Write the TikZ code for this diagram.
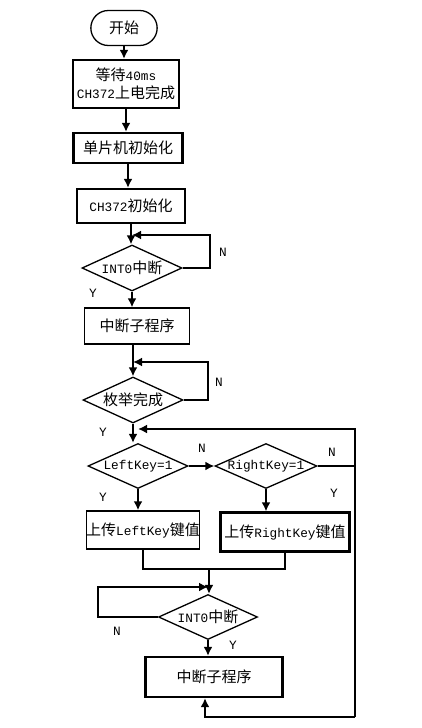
\documentclass[tikz,border=0pt]{standalone}
\usepackage{fontspec}
\setmainfont{Liberation Mono}[Scale=0.85]
\newfontfamily\cjk{Noto Sans CJK SC}
\usetikzlibrary{shapes.geometric,shapes.misc,arrows.meta}

\tikzset{
    box/.style={draw, rectangle, inner sep=0pt, align=center},
    cond/.style={draw, diamond, inner sep=0pt, line width=1.3pt},
    flow/.style={line width=2pt},
    lbl/.style={inner sep=0pt}
}

\begin{document}
\begin{tikzpicture}[x=1pt, y=-1pt, font=\fontsize{15}{18}\selectfont, >={Latex[length=9pt, width=9pt]}]
        \useasboundingbox (0,0) rectangle (422,728);
        \node[draw, rounded rectangle, line width=1.3pt, minimum width=72, minimum height=35] (start) at (124,28) {\cjk 开始};
        \node[box, line width=2.3pt, minimum width=106, minimum height=48] (wait) at (126,84) {{\cjk 等待}40ms\\CH372{\cjk 上电完成}};
        \node[box, line width=2.3pt, minimum width=109, minimum height=30] (mcu) at (128,148) {\cjk 单片机初始化};
        \node[box, line width=2.3pt, minimum width=108, minimum height=34] (ch) at (131,206) {CH372{\cjk 初始化}};
        \node[cond, minimum width=100, minimum height=46] (int1) at (132,268) {\makebox[0pt]{INT0{\cjk 中断}}};
        \node[box, line width=1.3pt, minimum width=105, minimum height=36] (sub1) at (137,326) {\cjk 中断子程序};
        \node[cond, minimum width=100, minimum height=46] (enum) at (133,400) {\makebox[0pt]{\cjk 枚举完成}};
        \node[cond, minimum width=100, minimum height=45] (left) at (138,466) {\makebox[0pt]{LeftKey=1}};
        \node[cond, minimum width=102, minimum height=45] (right) at (266,466) {\makebox[0pt]{RightKey=1}};
        \node[box, line width=1.5pt, minimum width=113, minimum height=38] (upl) at (143,530) {\makebox[0pt]{{\cjk 上传}LeftKey{\cjk 键值}}};
        \node[box, line width=2.3pt, minimum width=129, minimum height=39] (upr) at (285,532) {\makebox[0pt]{{\cjk 上传}RightKey{\cjk 键值}}};
        \node[cond, minimum width=99, minimum height=45] (int2) at (208,617) {\makebox[0pt]{INT0{\cjk 中断}}};
        \node[box, line width=2.3pt, minimum width=137, minimum height=40] (sub2) at (214,677) {\cjk 中断子程序};

        \coordinate (l1) at (210,235);
        \coordinate (l2) at (208,362);
        \coordinate (l3) at (98,587);
        \coordinate (r1) at (355,429);
        \coordinate (r2) at (355,717);
        \coordinate (b1) at (205,717);
        \coordinate (j) at (209,569);

        \draw[flow, ->] (start.south) -- (start.south |- wait.north);
        \draw[flow, ->] (wait.south) -- (wait.south |- mcu.north);
        \draw[flow, ->] (mcu.south) -- (mcu.south |- ch.north);
        \draw[flow, ->] (ch.south) -- (ch.south |- int1.north);
        \draw[flow, ->] (int1.east) -| (l1) -- (l1 -| int1.north);
        \draw[flow, ->] (int1.south) -- (int1.south |- sub1.north);
        \draw[flow, ->] (sub1.south -| enum.north) -- (enum.north);
        \draw[flow, ->] (enum.east) -| (l2) -- (l2 -| enum.north);
        \draw[flow, ->] (enum.south) -- (enum.south |- left.north);
        \draw[flow, ->] (left.east) -- (right.west);
        \draw[flow] (right.east) -- (right.east -| r1);
        \draw[flow, ->] (r2) -- (r1) -- (r1 -| left.north);
        \draw[flow, ->] (left.south) -- (left.south |- upl.north);
        \draw[flow, ->] (right.south) -- (right.south |- upr.north);
        \draw[flow] (upl.south) |- (j -| upr.south) -- (upr.south);
        \draw[flow, ->] (j) -- (j |- int2.north);
        \draw[flow, ->] (int2.west) -| (l3) -- (l3 -| int2.north);
        \draw[flow, ->] (int2.south) -- (int2.south |- sub2.north);
        \draw[flow, ->] (r2) -- (b1) -- (b1 |- sub2.south);

        \node[lbl] (n1) at (223,252) {N};
        \node[lbl] (y1) at (93,293) {Y};
        \node[lbl] (n2) at (219,382) {N};
        \node[lbl] (y2) at (103,432) {Y};
        \node[lbl] (n3) at (202,448) {N};
        \node[lbl] (y3) at (103,497) {Y};
        \node[lbl] (n4) at (332,452) {N};
        \node[lbl] (y4) at (334,493) {Y};
        \node[lbl] (n5) at (117,631) {N};
        \node[lbl] (y5) at (233,645) {Y};
    \end{tikzpicture}
\end{document}
